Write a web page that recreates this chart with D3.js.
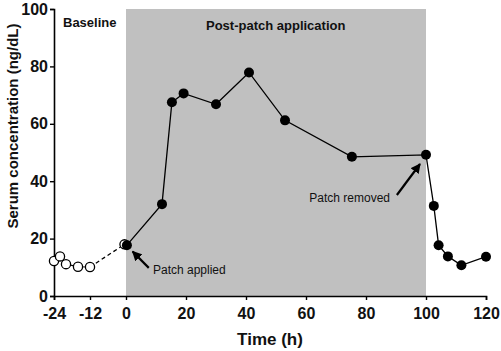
<!DOCTYPE html>
<html>
<head>
<meta charset="utf-8">
<script src="https://cdn.jsdelivr.net/npm/d3@7"></script>
<style>
  body { margin: 0; background: #fff; }
  svg { font-family: "Liberation Sans", Arial, sans-serif; }
</style>
</head>
<body>
<script>

// Baseline (open circles), hours and ng/dL.
var baseTimes = [-24, -22, -20, -16, -12, -0.5];
var baseValues = [12.2, 13.8, 11.1, 10.2, 10.1, 18.0];

// Post-patch (filled circles).
var postTimes = [0.3, 12, 15.3, 19.2, 30, 41, 53, 75.3, 100, 102.6, 104.2, 107.3, 111.8, 120];
var postValues = [17.7, 32, 67.5, 70.6, 66.8, 77.9, 61.2, 48.5, 49.2, 31.4, 17.7, 13.8, 10.7, 13.7];

var xTicks = [-24, -12, 0, 20, 40, 60, 80, 100, 120];
var yTicks = [0, 20, 40, 60, 80, 100];
var patchWindow = [0, 100];

var W = 501, H = 351;

var svg = d3.select('body').append('svg')
  .attr('width', W).attr('height', H);

var x = d3.scaleLinear().domain([-24, 120]).range([54, 486]);
var y = d3.scaleLinear().domain([0, 100]).range([296, 9]);

// Plain hyphen for negatives, as in the original.
var fmt = function(d) { return String(d); };

// Shaded application window.
svg.append('rect')
  .attr('x', x(patchWindow[0]))
  .attr('y', y(100))
  .attr('width', x(patchWindow[1]) - x(patchWindow[0]))
  .attr('height', y(0) - y(100))
  .attr('fill', '#c0c0c0');

// Axes.
var xAxis = svg.append('g')
  .attr('transform', 'translate(0,' + y(0) + ')')
  .call(d3.axisBottom(x).tickValues(xTicks).tickFormat(fmt)
    .tickSize(4).tickPadding(8));

var yAxis = svg.append('g')
  .attr('transform', 'translate(' + x(-24) + ',0)')
  .call(d3.axisLeft(y).tickValues(yTicks).tickFormat(fmt)
    .tickSize(4).tickPadding(2));

[xAxis, yAxis].forEach(function(g) {
  g.select('.domain').attr('stroke', '#000').attr('stroke-width', 1.6);
  g.selectAll('.tick line').attr('stroke', '#000').attr('stroke-width', 1.4);
  g.selectAll('.tick text')
    .attr('fill', '#111')
    .style('font-size', '16px')
    .style('font-weight', 'bold')
    .style('font-family', '"Liberation Sans", Arial, sans-serif');
});

// Axis titles.
svg.append('text')
  .attr('x', 270).attr('y', 345)
  .attr('text-anchor', 'middle')
  .style('font-size', '17px').style('font-weight', 'bold')
  .attr('fill', '#111')
  .text('Time (h)');

svg.append('text')
  .attr('transform', 'translate(18,126) rotate(-90)')
  .attr('text-anchor', 'middle')
  .style('font-size', '15px').style('font-weight', 'bold')
  .attr('fill', '#111')
  .text('Serum concentration (ng/dL)');

// Region labels.
svg.append('text')
  .attr('x', 63).attr('y', 27)
  .style('font-size', '13px').style('font-weight', 'bold')
  .attr('fill', '#111')
  .text('Baseline');

svg.append('text')
  .attr('x', 206).attr('y', 30)
  .style('font-size', '13px').style('font-weight', 'bold')
  .attr('fill', '#111')
  .text('Post-patch application');

// Lines.
var line = d3.line()
  .x(function(d) { return x(d[0]); })
  .y(function(d) { return y(d[1]); });

var base = d3.zip(baseTimes, baseValues);
var post = d3.zip(postTimes, postValues);

svg.append('path')
  .attr('d', line(base.slice(0, 5)))
  .attr('fill', 'none').attr('stroke', '#000').attr('stroke-width', 1.2);

svg.append('path')
  .attr('d', line(base.slice(4)))
  .attr('fill', 'none').attr('stroke', '#000').attr('stroke-width', 1.3)
  .attr('stroke-dasharray', '4,3');

svg.append('path')
  .attr('d', line(post))
  .attr('fill', 'none').attr('stroke', '#000').attr('stroke-width', 1.3);

// Markers.
svg.selectAll('.open').data(base).enter().append('circle')
  .attr('class', 'open')
  .attr('cx', function(d) { return x(d[0]); })
  .attr('cy', function(d) { return y(d[1]); })
  .attr('r', 4.6)
  .attr('fill', '#fff').attr('stroke', '#000').attr('stroke-width', 1.3);

svg.selectAll('.filled').data(post).enter().append('circle')
  .attr('class', 'filled')
  .attr('cx', function(d) { return x(d[0]); })
  .attr('cy', function(d) { return y(d[1]); })
  .attr('r', 5)
  .attr('fill', '#000');

// Arrow annotations.
svg.append('defs').append('marker')
  .attr('id', 'head')
  .attr('viewBox', '0 0 10 10')
  .attr('refX', 9).attr('refY', 5)
  .attr('markerWidth', 4.5).attr('markerHeight', 4.5)
  .attr('orient', 'auto')
  .append('path').attr('d', 'M0,0L10,5L0,10Z').attr('fill', '#000');

var notes = [
  { text: 'Patch applied', tx: 153, ty: 274, anchor: 'start',
    from: [7.6, 9.8], to: [2.2, 15.5] },
  { text: 'Patch removed', tx: 390, ty: 202, anchor: 'end',
    from: [90.3, 35.2], to: [98, 46] }
];

notes.forEach(function(n) {
  svg.append('line')
    .attr('x1', x(n.from[0])).attr('y1', y(n.from[1]))
    .attr('x2', x(n.to[0])).attr('y2', y(n.to[1]))
    .attr('stroke', '#000').attr('stroke-width', 2.2)
    .attr('marker-end', 'url(#head)');
  svg.append('text')
    .attr('x', n.tx).attr('y', n.ty)
    .attr('text-anchor', n.anchor)
    .style('font-size', '12px')
    .attr('fill', '#111')
    .text(n.text);
});

</script>
</body>
</html>
